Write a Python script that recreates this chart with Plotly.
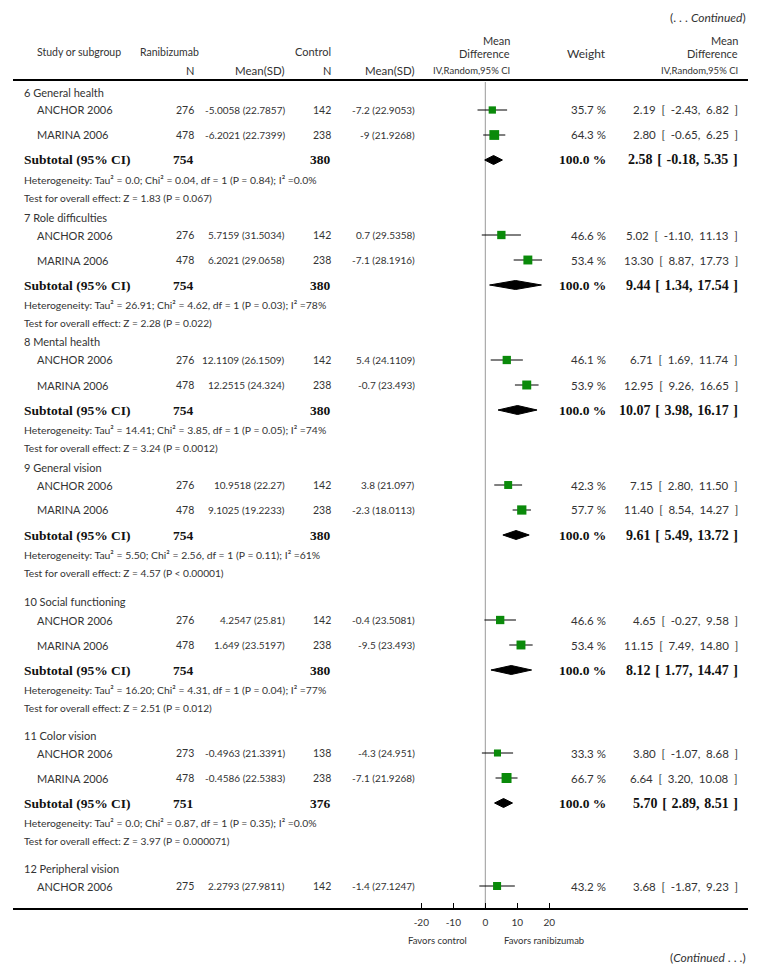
import math
import plotly.graph_objects as go

# ---------------- data ----------------
group_names = ["6 General health", "7 Role difficulties", "8 Mental health",
               "9 General vision", "10 Social functioning", "11 Color vision",
               "12 Peripheral vision"]
study_names = [["ANCHOR 2006", "MARINA 2006"]] * 6 + [["ANCHOR 2006"]]
trt_n = [[276, 478], [276, 478], [276, 478], [276, 478], [276, 478], [273, 478], [275]]
trt_msd = [["-5.0058 (22.7857)", "-6.2021 (22.7399)"],
           ["5.7159 (31.5034)", "6.2021 (29.0658)"],
           ["12.1109 (26.1509)", "12.2515 (24.324)"],
           ["10.9518 (22.27)", "9.1025 (19.2233)"],
           ["4.2547 (25.81)", "1.649 (23.5197)"],
           ["-0.4963 (21.3391)", "-0.4586 (22.5383)"],
           ["2.2793 (27.9811)"]]
ctl_n = [[142, 238], [142, 238], [142, 238], [142, 238], [142, 238], [138, 238], [142]]
ctl_msd = [["-7.2 (22.9053)", "-9 (21.9268)"],
           ["0.7 (29.5358)", "-7.1 (28.1916)"],
           ["5.4 (24.1109)", "-0.7 (23.493)"],
           ["3.8 (21.097)", "-2.3 (18.0113)"],
           ["-0.4 (23.5081)", "-9.5 (23.493)"],
           ["-4.3 (24.951)", "-7.1 (21.9268)"],
           ["-1.4 (27.1247)"]]
weights = [[35.7, 64.3], [46.6, 53.4], [46.1, 53.9], [42.3, 57.7],
           [46.6, 53.4], [33.3, 66.7], [43.2]]
md = [[2.19, 2.80], [5.02, 13.30], [6.71, 12.95], [7.15, 11.40],
      [4.65, 11.15], [3.80, 6.64], [3.68]]
md_lo = [[-2.43, -0.65], [-1.10, 8.87], [1.69, 9.26], [2.80, 8.54],
         [-0.27, 7.49], [-1.07, 3.20], [-1.87]]
md_hi = [[6.82, 6.25], [11.13, 17.73], [11.74, 16.65], [11.50, 14.27],
         [9.58, 14.80], [8.68, 10.08], [9.23]]
sub_trt_n = [754, 754, 754, 754, 754, 751]
sub_ctl_n = [380, 380, 380, 380, 380, 376]
sub_md = [2.58, 9.44, 10.07, 9.61, 8.12, 5.70]
sub_lo = [-0.18, 1.34, 3.98, 5.49, 1.77, 2.89]
sub_hi = [5.35, 17.54, 16.17, 13.72, 14.47, 8.51]
het_text = ["Heterogeneity: Tau² = 0.0; Chi² = 0.04, df = 1 (P = 0.84); I² =0.0%",
            "Heterogeneity: Tau² = 26.91; Chi² = 4.62, df = 1 (P = 0.03); I² =78%",
            "Heterogeneity: Tau² = 14.41; Chi² = 3.85, df = 1 (P = 0.05); I² =74%",
            "Heterogeneity: Tau² = 5.50; Chi² = 2.56, df = 1 (P = 0.11); I² =61%",
            "Heterogeneity: Tau² = 16.20; Chi² = 4.31, df = 1 (P = 0.04); I² =77%",
            "Heterogeneity: Tau² = 0.0; Chi² = 0.87, df = 1 (P = 0.35); I² =0.0%"]
test_text = ["Test for overall effect: Z = 1.83 (P = 0.067)",
             "Test for overall effect: Z = 2.28 (P = 0.022)",
             "Test for overall effect: Z = 3.24 (P = 0.0012)",
             "Test for overall effect: Z = 4.57 (P < 0.00001)",
             "Test for overall effect: Z = 2.51 (P = 0.012)",
             "Test for overall effect: Z = 3.97 (P = 0.000071)"]
tick_vals = [-20, -10, 0, 10, 20]
tick_labels = ["-20", "-10", "0", "10", "20"]
favors_left = "Favors control"
favors_right = "Favors ranibizumab"

# ---------------- layout constants (page pixels) ----------------
OFF = 8                   # browser body margin
W, H = 762 - OFF, 977 - OFF
PL, PR = 13, 748          # plot area left/right (page px)
TOP = OFF                 # plot area top (page px)
AXIS_Y = 908              # bottom axis line (page px)
ZERO_PX = 485.3
PX_PER_UNIT = 3.2
x_lo = -(ZERO_PX - PL) / PX_PER_UNIT
x_hi = (PR - ZERO_PX) / PX_PER_UNIT

def px(x):
    return (x - PL) / (PR - PL)

def py(y):
    return (AXIS_Y - y) / (AXIS_Y - TOP)

SANS = "Lato, 'Open Sans', sans-serif"
SERIF = "'Liberation Serif', 'Times New Roman', serif"
TXT = "#333333"
BOLD = "#111111"
GREEN = "#0a8a0a"
SP = "\u2002"    # wide space inside CI brackets (regular rows)
SPB = "\u2004"   # wide space inside CI brackets (bold subtotal rows)

annotations = []

def txt(x, y, s, anchor="left", size=11, family=SANS, color=TXT):
    annotations.append(dict(x=px(x), y=py(y), xref="paper", yref="paper",
                            text=s, showarrow=False, xanchor=anchor, yanchor="middle",
                            font=dict(family=family, size=size, color=color)))

def fmt_ci(m, lo, hi, sp=SP):
    return f"{m:.2f}{sp}[{sp}{lo:.2f},{sp}{hi:.2f}{sp}]"

# column positions
C_LABEL, C_STUDY = 22, 35
C_TN, C_TMSD, C_CN, C_CMSD = 196, 287, 333, 417
C_PLOTHDR, C_WT, C_CI = 512, 608, 740
NUM = 10.5

# headers
txt(748, 18, "(. . . <i>Continued</i>)", "right", 12)
txt(C_STUDY, 52, "Study or subgroup", "left", 10.5)
txt(138, 52, "Ranibizumab", "left", 10.5)
txt(C_TN, 70, "N", "right", 11)
txt(C_TMSD, 70, "Mean(SD)", "right", 11.5)
txt(C_CN, 52, "Control", "right", 11)
txt(C_CN, 70, "N", "right", 11)
txt(C_CMSD, 70, "Mean(SD)", "right", 11.5)
txt(C_PLOTHDR, 40, "Mean", "right", 11)
txt(C_PLOTHDR, 53, "Difference", "right", 11)
txt(C_PLOTHDR, 70, "IV,Random,95% CI", "right", 9.5)
txt(C_WT, 53, "Weight", "right", 12)
txt(C_CI, 40, "Mean", "right", 11)
txt(C_CI, 53, "Difference", "right", 11)
txt(C_CI, 70, "IV,Random,95% CI", "right", 9.5)

# row spacing
G_HDR_STUDY, G_STUDY, G_STUDY_SUB, G_SUB_HET, G_HET_TEST, G_TEST_GRP = 18, 25, 25, 19.5, 18.5, 19
extra_gap = [0, 0, 0, 10, 8, 8]

traces = []
diamonds_x, diamonds_y = [], []
y = 92
for g, gname in enumerate(group_names):
    txt(C_LABEL, y, gname)
    y += G_HDR_STUDY
    for s, sname in enumerate(study_names[g]):
        if s > 0:
            y += G_STUDY
        txt(C_STUDY, y, sname)
        txt(C_TN, y, str(trt_n[g][s]), "right", NUM)
        txt(C_TMSD, y, trt_msd[g][s], "right", 10)
        txt(C_CN, y, str(ctl_n[g][s]), "right", NUM)
        txt(C_CMSD, y, ctl_msd[g][s], "right", 10)
        txt(C_WT, y, f"{weights[g][s]:.1f}\u00a0%", "right", 11.5)
        txt(C_CI, y, fmt_ci(md[g][s], md_lo[g][s], md_hi[g][s]), "right", 11.5)
        traces.append(go.Scatter(x=[md_lo[g][s], md_hi[g][s]], y=[y, y], mode="lines",
                                 line=dict(color="black", width=1), hoverinfo="skip"))
        traces.append(go.Scatter(x=[md[g][s]], y=[y], mode="markers",
                                 marker=dict(symbol="square", color=GREEN,
                                             size=1.22 * math.sqrt(weights[g][s]),
                                             line=dict(width=0)),
                                 hoverinfo="skip"))
    if g < len(sub_md):
        y += G_STUDY_SUB
        txt(C_LABEL, y, "<b>Subtotal (95% CI)</b>", "left", 13.5, SERIF, BOLD)
        txt(C_TN, y, f"<b>{sub_trt_n[g]}</b>", "right", 13.5, SERIF, BOLD)
        txt(C_CN, y, f"<b>{sub_ctl_n[g]}</b>", "right", 13.5, SERIF, BOLD)
        txt(C_WT, y, "<b>100.0 %</b>", "right", 13.5, SERIF, BOLD)
        txt(C_CI, y, "<b>" + fmt_ci(sub_md[g], sub_lo[g], sub_hi[g], SPB) + "</b>",
            "right", 14, SERIF, BOLD)
        dh = 4.5
        diamonds_x += [sub_lo[g], sub_md[g], sub_hi[g], sub_md[g], sub_lo[g], None]
        diamonds_y += [y, y - dh, y, y + dh, y, None]
        y += G_SUB_HET
        txt(C_LABEL, y, het_text[g], "left", 10.4)
        y += G_HET_TEST
        txt(C_LABEL, y, test_text[g], "left", 10.2)
        y += G_TEST_GRP + extra_gap[g]

traces.append(go.Scatter(x=diamonds_x, y=diamonds_y, mode="lines", fill="toself",
                         fillcolor="black", line=dict(color="black", width=1),
                         hoverinfo="skip"))

# footer
txt(469, 940, favors_left, "right", 9.5)
txt(502, 940, favors_right, "left", 9.5)
txt(748, 957, "(<i>Continued</i> . . .)", "right", 12)

fig = go.Figure(traces)
shapes = [
    dict(type="line", xref="paper", yref="paper", x0=0, x1=1, y0=py(80), y1=py(80),
         line=dict(color="black", width=2)),
    dict(type="line", xref="x", yref="y", x0=0, x1=0, y0=82, y1=AXIS_Y,
         line=dict(color="#999999", width=1), layer="below"),
]
fig.update_layout(
    width=W, height=H,
    margin=dict(l=PL - OFF, r=W - (PR - OFF), t=0, b=H - (AXIS_Y - OFF)),
    paper_bgcolor="white", plot_bgcolor="white",
    showlegend=False,
    annotations=annotations,
    shapes=shapes,
    xaxis=dict(range=[x_lo, x_hi], showgrid=False, zeroline=False,
               showline=True, linecolor="black", linewidth=2,
               ticks="inside", ticklen=5, tickcolor="black", tickwidth=1,
               tickvals=tick_vals, ticktext=tick_labels, ticklabelstandoff=4,
               tickfont=dict(family=SANS, size=10, color=TXT), fixedrange=True),
    yaxis=dict(range=[AXIS_Y, TOP], visible=False, fixedrange=True),
)
fig.write_html("out.html")
